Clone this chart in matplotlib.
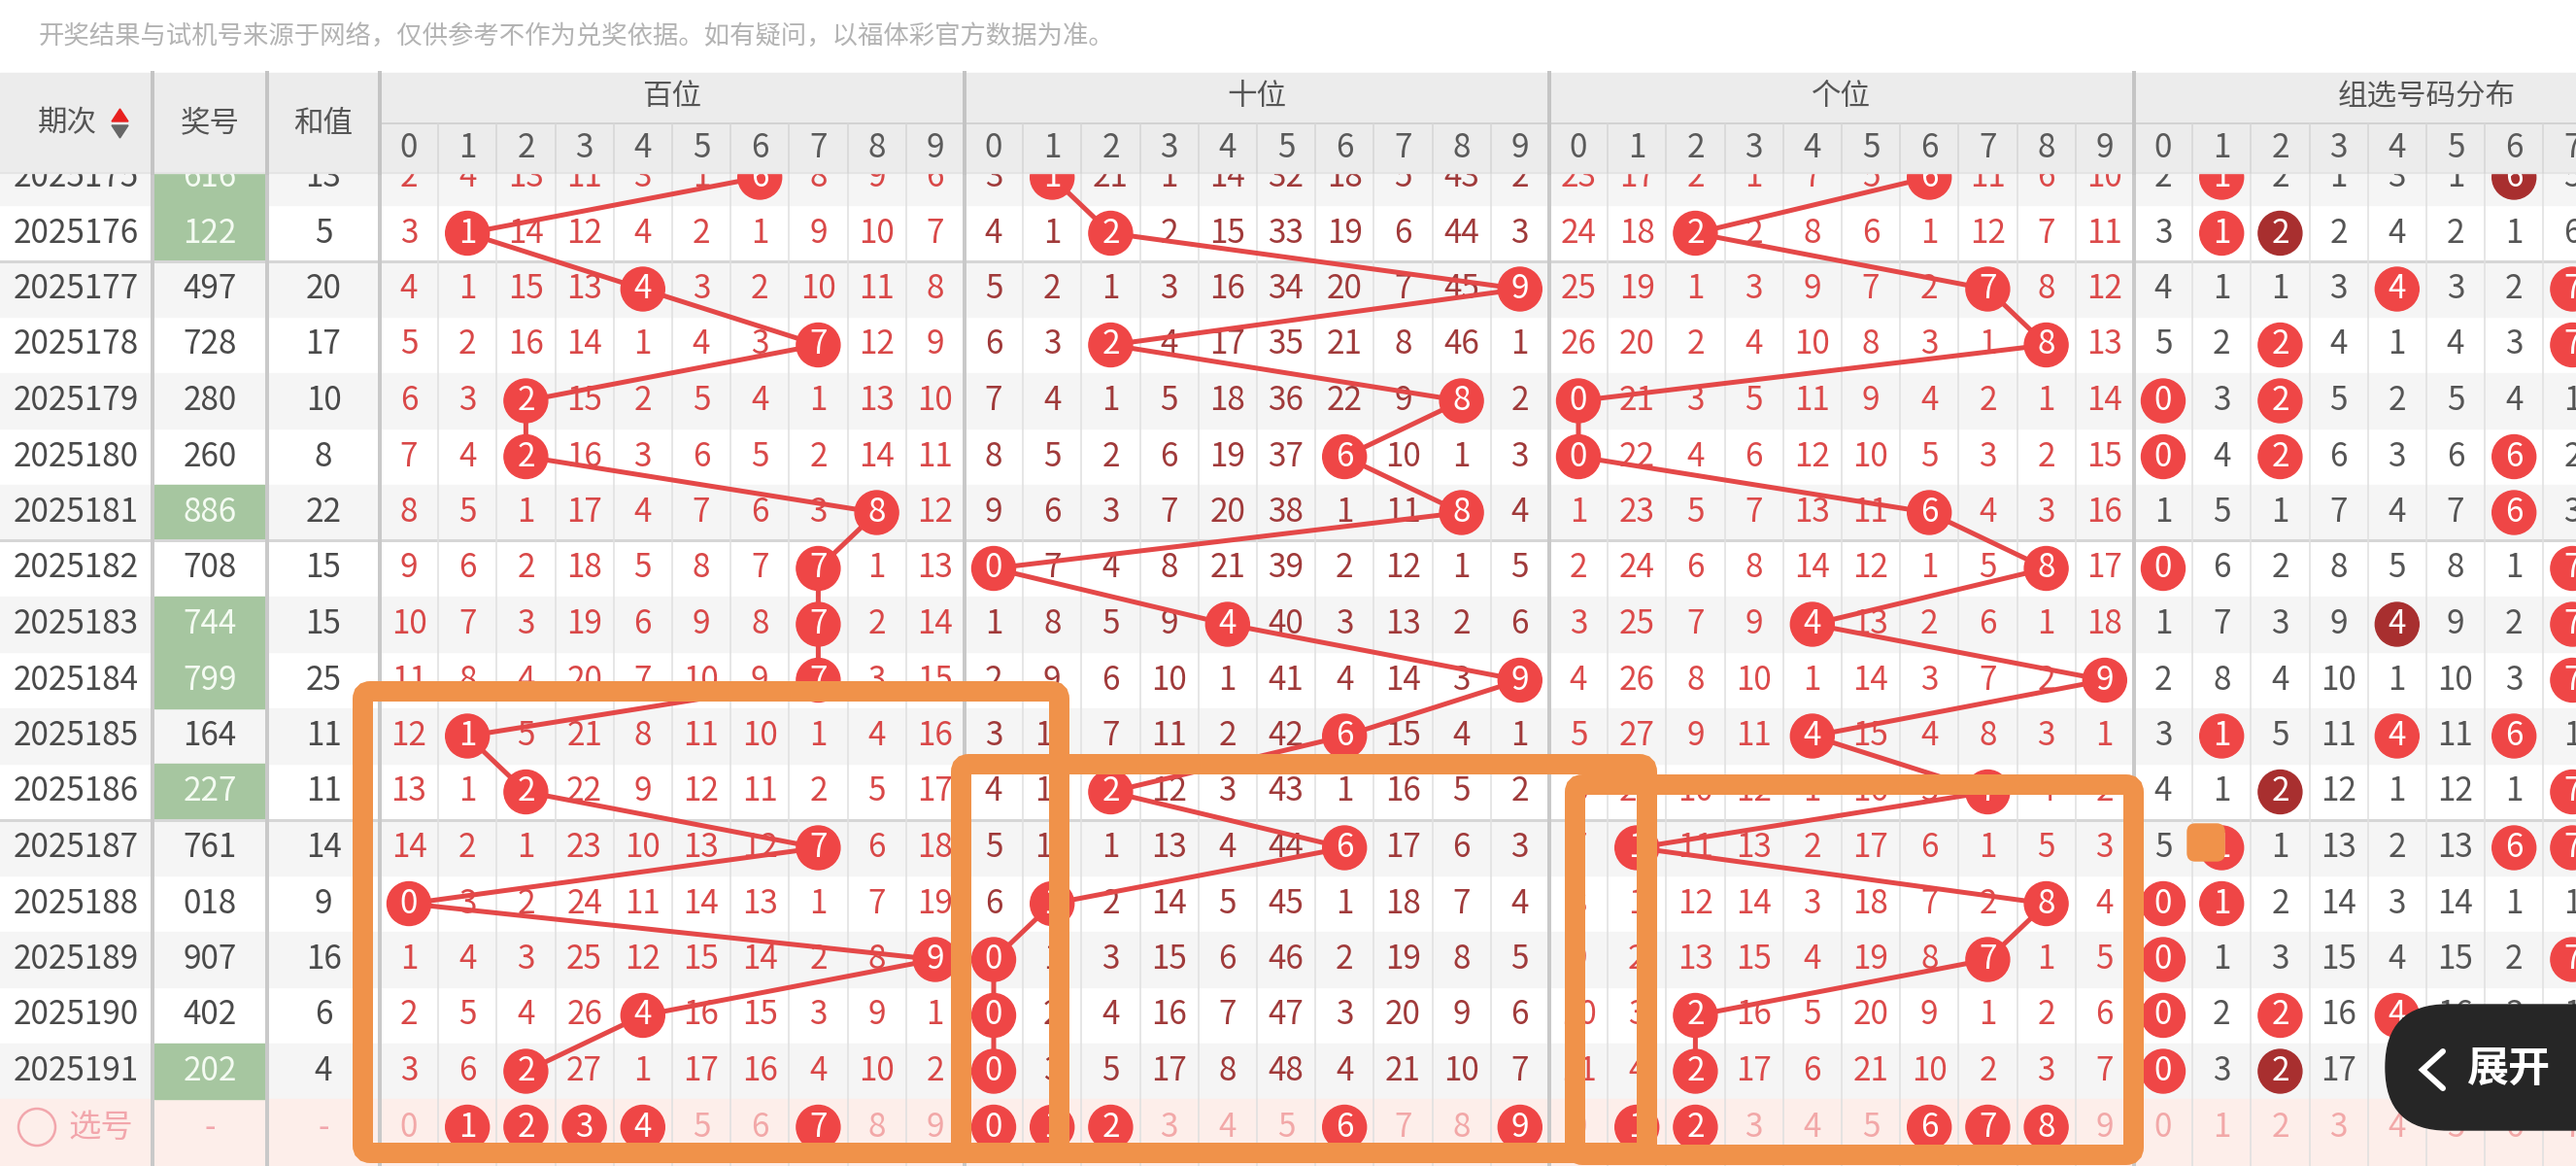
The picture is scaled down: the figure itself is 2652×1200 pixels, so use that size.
import matplotlib
matplotlib.use('Agg')
import matplotlib.pyplot as plt
from matplotlib.patches import Rectangle, Circle, FancyBboxPatch, Polygon

plt.rcParams['font.family'] = ['Noto Sans CJK SC', 'DejaVu Sans']

# ---- data ----
issues = ['2025175', '2025176', '2025177', '2025178', '2025179', '2025180',
          '2025181', '2025182', '2025183', '2025184', '2025185', '2025186',
          '2025187', '2025188', '2025189', '2025190', '2025191']
draws = ['616', '122', '497', '728', '280', '260', '886', '708', '744',
         '799', '164', '227', '761', '018', '907', '402', '202']
sums = [13, 5, 20, 17, 10, 8, 22, 15, 15, 25, 11, 11, 14, 9, 16, 6, 4]

# missing counts, 0 where the digit was drawn
bai_miss = [
    [2, 4, 13, 11, 3, 1, 0, 8, 9, 6],
    [3, 0, 14, 12, 4, 2, 1, 9, 10, 7],
    [4, 1, 15, 13, 0, 3, 2, 10, 11, 8],
    [5, 2, 16, 14, 1, 4, 3, 0, 12, 9],
    [6, 3, 0, 15, 2, 5, 4, 1, 13, 10],
    [7, 4, 0, 16, 3, 6, 5, 2, 14, 11],
    [8, 5, 1, 17, 4, 7, 6, 3, 0, 12],
    [9, 6, 2, 18, 5, 8, 7, 0, 1, 13],
    [10, 7, 3, 19, 6, 9, 8, 0, 2, 14],
    [11, 8, 4, 20, 7, 10, 9, 0, 3, 15],
    [12, 0, 5, 21, 8, 11, 10, 1, 4, 16],
    [13, 1, 0, 22, 9, 12, 11, 2, 5, 17],
    [14, 2, 1, 23, 10, 13, 12, 0, 6, 18],
    [0, 3, 2, 24, 11, 14, 13, 1, 7, 19],
    [1, 4, 3, 25, 12, 15, 14, 2, 8, 0],
    [2, 5, 4, 26, 0, 16, 15, 3, 9, 1],
    [3, 6, 0, 27, 1, 17, 16, 4, 10, 2],
]
shi_miss = [
    [3, 0, 21, 1, 14, 32, 18, 5, 43, 2],
    [4, 1, 0, 2, 15, 33, 19, 6, 44, 3],
    [5, 2, 1, 3, 16, 34, 20, 7, 45, 0],
    [6, 3, 0, 4, 17, 35, 21, 8, 46, 1],
    [7, 4, 1, 5, 18, 36, 22, 9, 0, 2],
    [8, 5, 2, 6, 19, 37, 0, 10, 1, 3],
    [9, 6, 3, 7, 20, 38, 1, 11, 0, 4],
    [0, 7, 4, 8, 21, 39, 2, 12, 1, 5],
    [1, 8, 5, 9, 0, 40, 3, 13, 2, 6],
    [2, 9, 6, 10, 1, 41, 4, 14, 3, 0],
    [3, 10, 7, 11, 2, 42, 0, 15, 4, 1],
    [4, 11, 0, 12, 3, 43, 1, 16, 5, 2],
    [5, 12, 1, 13, 4, 44, 0, 17, 6, 3],
    [6, 0, 2, 14, 5, 45, 1, 18, 7, 4],
    [0, 1, 3, 15, 6, 46, 2, 19, 8, 5],
    [0, 2, 4, 16, 7, 47, 3, 20, 9, 6],
    [0, 3, 5, 17, 8, 48, 4, 21, 10, 7],
]
ge_miss = [
    [23, 17, 2, 1, 7, 5, 0, 11, 6, 10],
    [24, 18, 0, 2, 8, 6, 1, 12, 7, 11],
    [25, 19, 1, 3, 9, 7, 2, 0, 8, 12],
    [26, 20, 2, 4, 10, 8, 3, 1, 0, 13],
    [0, 21, 3, 5, 11, 9, 4, 2, 1, 14],
    [0, 22, 4, 6, 12, 10, 5, 3, 2, 15],
    [1, 23, 5, 7, 13, 11, 0, 4, 3, 16],
    [2, 24, 6, 8, 14, 12, 1, 5, 0, 17],
    [3, 25, 7, 9, 0, 13, 2, 6, 1, 18],
    [4, 26, 8, 10, 1, 14, 3, 7, 2, 0],
    [5, 27, 9, 11, 0, 15, 4, 8, 3, 1],
    [6, 28, 10, 12, 1, 16, 5, 0, 4, 2],
    [7, 0, 11, 13, 2, 17, 6, 1, 5, 3],
    [8, 1, 12, 14, 3, 18, 7, 2, 0, 4],
    [9, 2, 13, 15, 4, 19, 8, 0, 1, 5],
    [10, 3, 0, 16, 5, 20, 9, 1, 2, 6],
    [11, 4, 0, 17, 6, 21, 10, 2, 3, 7],
]
# group-selection distribution, digits 0-7 (8 and 9 are off screen)
zu_miss = [
    [2, 0, 2, 1, 3, 1, 0, 5],
    [3, 0, 0, 2, 4, 2, 1, 6],
    [4, 1, 1, 3, 0, 3, 2, 0],
    [5, 2, 0, 4, 1, 4, 3, 0],
    [0, 3, 0, 5, 2, 5, 4, 1],
    [0, 4, 0, 6, 3, 6, 0, 2],
    [1, 5, 1, 7, 4, 7, 0, 3],
    [0, 6, 2, 8, 5, 8, 1, 0],
    [1, 7, 3, 9, 0, 9, 2, 0],
    [2, 8, 4, 10, 1, 10, 3, 0],
    [3, 0, 5, 11, 0, 11, 0, 1],
    [4, 1, 0, 12, 1, 12, 1, 0],
    [5, 0, 1, 13, 2, 13, 0, 0],
    [0, 0, 2, 14, 3, 14, 1, 1],
    [0, 1, 3, 15, 4, 15, 2, 0],
    [0, 2, 0, 16, 0, 16, 3, 1],
    [0, 3, 0, 17, 1, 17, 4, 2],
]
pick_bai = [1, 2, 3, 4, 7]
pick_shi = [0, 1, 2, 6, 9]
pick_ge = [1, 2, 6, 7, 8]

group_names = ['百位', '十位', '个位', '组选号码分布']
notice = '开奖结果与试机号来源于网络，仅供参考不作为兑奖依据。如有疑问，以福体彩官方数据为准。'

# ---- layout (pixels) ----
W, H = 2652, 1200
X0, CW = 421, 60.2
Y0, RH = 182.5, 57.5
HEAD_TOP, HEAD_MID, HEAD_BOT = 75, 127, 178
R = 22.5
FS = 24

RED = '#ef4646'
DARK = '#a82f2f'
LINE = '#e44848'
ORANGE = '#f0924a'
num_colors = ['#d94848', '#a03a3a', '#dc4a4a']


def cx(k):
    return X0 + CW * k


def ry(i):
    return Y0 + RH * i


def px(v):
    return v * 0.72


fig = plt.figure(figsize=(26.52, 12), dpi=100)
ax = fig.add_axes([0, 0, 1, 1])
ax.set_xlim(0, W)
ax.set_ylim(H, 0)
ax.axis('off')

ax.text(40, 37, notice, fontsize=19, color='#b3b3b3', va='center', ha='left')

n = len(issues)
# row stripes
for i in range(n):
    if i % 2 == 0:
        ax.add_patch(Rectangle((0, ry(i) - RH / 2), W, RH, color='#f5f5f5', zorder=0))
    if len(set(draws[i])) < 3:
        ax.add_patch(Rectangle((159, ry(i) - RH / 2), 114, RH, color='#a6c6a0', zorder=0.5))
# pick row background
ax.add_patch(Rectangle((0, ry(n) - RH / 2), W, H, color='#fdeeea', zorder=0))

# block separators every five rows
for i in range(n - 1):
    if issues[i][-1] in '16':
        yy = ry(i) + RH / 2
        ax.plot([0, W], [yy, yy], color='#d6d6d6', lw=px(3), zorder=1)

# vertical grid
for xx in [157, 275]:
    ax.plot([xx, xx], [HEAD_TOP, H], color='#c9c9c9', lw=px(4), zorder=1)
for k in range(0, 40):
    xx = cx(k - 0.5)
    if k % 10 == 0:
        ax.plot([xx, xx], [HEAD_TOP, H], color='#c9c9c9', lw=px(4), zorder=1)
    else:
        ax.plot([xx, xx], [HEAD_MID, H], color='#e0e0e0', lw=px(1.6), zorder=1)

# left columns
for i in range(n):
    y = ry(i)
    ax.text(78, y, issues[i], fontsize=FS, color='#4a4a4a', ha='center', va='center', zorder=2)
    green = len(set(draws[i])) < 3
    ax.text(216, y, draws[i], fontsize=FS, color='#f4fbf2' if green else '#4a4a4a',
            ha='center', va='center', zorder=2)
    ax.text(333, y, str(sums[i]), fontsize=FS, color='#4a4a4a', ha='center', va='center', zorder=2)

# position trend areas
tables = [bai_miss, shi_miss, ge_miss]
for g, table in enumerate(tables):
    pts = []
    for i in range(n):
        d = int(draws[i][g])
        for k in range(10):
            x = cx(g * 10 + k)
            if k == d:
                ax.add_patch(Circle((x, ry(i)), R, color=RED, zorder=4))
                ax.text(x, ry(i), str(k), fontsize=FS, color='white', ha='center', va='center', zorder=5)
            else:
                ax.text(x, ry(i), str(table[i][k]), fontsize=FS, color=num_colors[g],
                        ha='center', va='center', zorder=2)
        pts.append((cx(g * 10 + d), ry(i)))
    ax.plot([p[0] for p in pts], [p[1] for p in pts], color=LINE, lw=px(5),
            solid_capstyle='round', zorder=3)

# group distribution
for i in range(n):
    for k in range(len(zu_miss[i])):
        x = cx(30 + k)
        c = draws[i].count(str(k))
        if c > 0:
            ax.add_patch(Circle((x, ry(i)), R, color=DARK if c > 1 else RED, zorder=4))
            ax.text(x, ry(i), str(k), fontsize=FS, color='white', ha='center', va='center', zorder=5)
        else:
            ax.text(x, ry(i), str(zu_miss[i][k]), fontsize=FS, color='#555555',
                    ha='center', va='center', zorder=2)

# pick row
yp = ry(n)
ax.add_patch(Circle((38, yp), 19, fill=False, ec='#f2a6ac', lw=px(2.5), zorder=2))
ax.text(104, yp, '选号', fontsize=FS, color='#f2a6ac', ha='center', va='center', zorder=2)
ax.text(216, yp, '-', fontsize=FS, color='#f2a6ac', ha='center', va='center', zorder=2)
ax.text(333, yp, '-', fontsize=FS, color='#f2a6ac', ha='center', va='center', zorder=2)
for g, picks in enumerate([pick_bai, pick_shi, pick_ge, []]):
    for k in range(10 if g < 3 else 8):
        x = cx(g * 10 + k)
        if k in picks:
            ax.add_patch(Circle((x, yp), R, color=RED, zorder=4))
            ax.text(x, yp, str(k), fontsize=FS, color='white', ha='center', va='center', zorder=5)
        else:
            ax.text(x, yp, str(k), fontsize=FS, color='#f2a8a8', ha='center', va='center', zorder=2)

# header (sticky, covers the first row)
ax.add_patch(Rectangle((0, HEAD_TOP), W, HEAD_BOT - HEAD_TOP, color='#ececec', zorder=6))
ax.plot([X0 - CW / 2, W], [HEAD_MID, HEAD_MID], color='#d2d2d2', lw=px(2), zorder=7)
ax.plot([0, W], [HEAD_BOT, HEAD_BOT], color='#e2e2e2', lw=px(1.5), zorder=7)
for xx in [157, 275]:
    ax.plot([xx, xx], [HEAD_TOP, HEAD_BOT], color='#c4c4c4', lw=px(4), zorder=7)
for k in range(0, 40):
    xx = cx(k - 0.5)
    if k % 10 == 0:
        ax.plot([xx, xx], [HEAD_TOP, HEAD_BOT], color='#c4c4c4', lw=px(4), zorder=7)
    else:
        ax.plot([xx, xx], [HEAD_MID, HEAD_BOT], color='#d6d6d6', lw=px(1.6), zorder=7)
    ax.text(cx(k), 152, str(k % 10), fontsize=FS, color='#5a5a5a', ha='center', va='center', zorder=8)
for g, name in enumerate(group_names):
    ax.text(cx(g * 10 + 4.5), 100, name, fontsize=22, color='#555555', ha='center', va='center', zorder=8)
ax.text(69, 127, '期次', fontsize=22, color='#555555', ha='center', va='center', zorder=8)
ax.add_patch(Polygon([[115, 125], [132, 125], [123.5, 112]], color='#e8201f', zorder=8))
ax.add_patch(Polygon([[115, 129], [132, 129], [123.5, 142]], color='#666666', zorder=8))
ax.text(216, 127, '奖号', fontsize=22, color='#555555', ha='center', va='center', zorder=8)
ax.text(333, 127, '和值', fontsize=22, color='#555555', ha='center', va='center', zorder=8)

# hand-drawn orange boxes
for (x1, y1, x2, y2) in [(373.5, 711.5, 1090.5, 1186.5),
                         (989.5, 786.5, 1695.5, 1186.5),
                         (1621.5, 807.5, 2196.5, 1188.5)]:
    ax.add_patch(FancyBboxPatch((x1, y1), x2 - x1, y2 - y1,
                                boxstyle='round,pad=0,rounding_size=8',
                                fill=False, ec=ORANGE, lw=px(21), zorder=10))
ax.add_patch(FancyBboxPatch((2252, 848), 38, 38, boxstyle='round,pad=0,rounding_size=8',
                            color=ORANGE, zorder=10))

# expand button
ax.add_patch(FancyBboxPatch((2456, 1034), 320, 129, boxstyle='round,pad=0,rounding_size=64',
                            color='#262626', zorder=11))
ax.plot([2515, 2494, 2515], [1082, 1101, 1120], color='white', lw=px(6),
        solid_capstyle='round', solid_joinstyle='miter', zorder=12)
ax.text(2582, 1100, '展开', fontsize=31, fontweight='bold', color='white',
        ha='center', va='center', zorder=12)

fig.savefig('out.png', dpi=100)
